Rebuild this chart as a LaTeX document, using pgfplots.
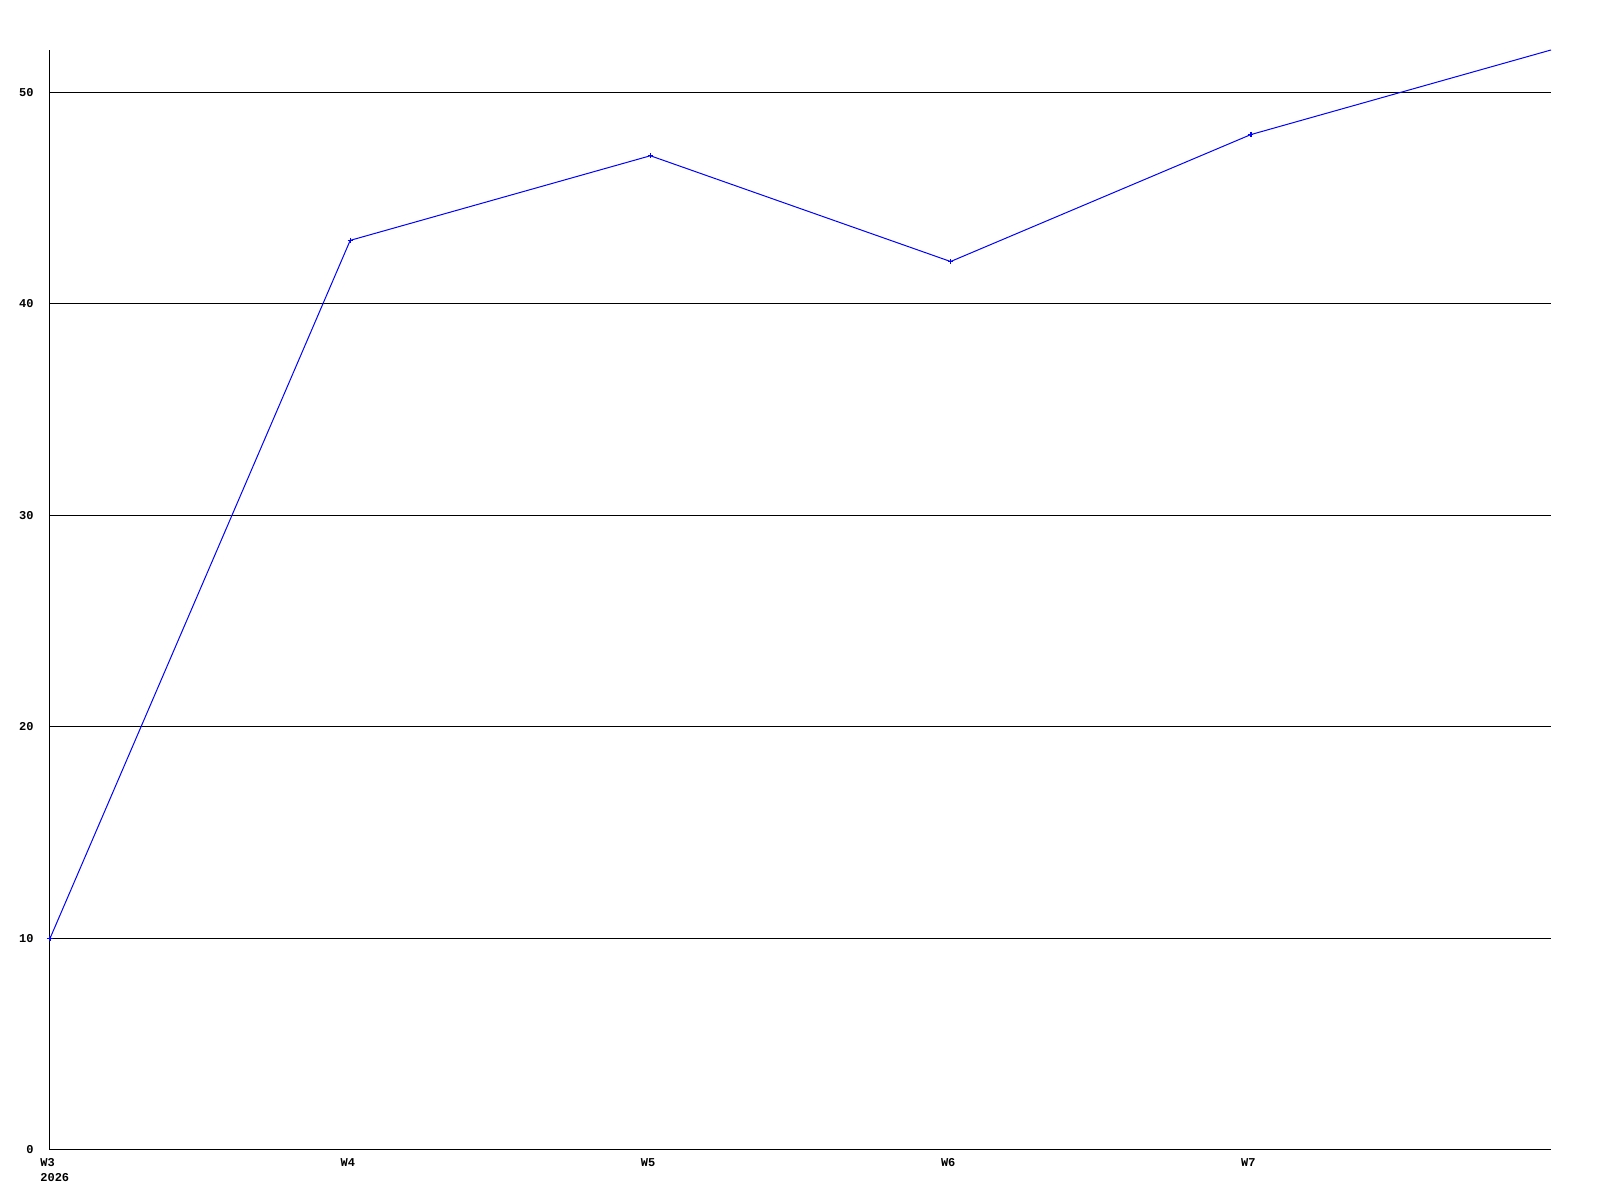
\documentclass[border=0pt]{standalone}
\usepackage{fontspec}
\setmainfont{Liberation Mono}
\usepackage{pgfplots}
\pgfplotsset{compat=1.18}
\begin{document}
\begin{tikzpicture}
\begin{axis}[
  scale only axis,
  width=750.5pt, height=550pt,
  xmin=0, xmax=5, ymin=0, ymax=52,
  axis x line*=bottom, axis y line*=left,
  axis line style={-, black, line width=0.5pt},
  xtick={0,1,2,3,4},
  xticklabels={{W3\\2026},W4,W5,W6,W7},
  ytick={0,10,20,30,40,50},
  major tick length=0pt,
  ymajorgrids,
  grid style={black, line width=0.5pt},
  tick label style={font=\bfseries\fontsize{6}{7.5}\selectfont},
  /pgf/number format/assume math mode=true,
  xticklabel style={anchor=north west, align=left, inner sep=0pt, xshift=-5pt, yshift=-4pt},
  yticklabel style={anchor=east, inner sep=0pt, xshift=-8pt},
  clip=false,
]
\addplot[blue, line width=0.5pt, mark=+, mark size=1.3pt, mark options={line width=0.7pt}, mark indices={1,2,3,4,5}]
  coordinates {(0,10) (1,43) (2,47) (3,42) (4,48) (5,52)};
\end{axis}
\path (current axis.south west) ++(-25pt,-25pt) rectangle ([xshift=24.5pt,yshift=25pt]current axis.north east);
\end{tikzpicture}
\end{document}
